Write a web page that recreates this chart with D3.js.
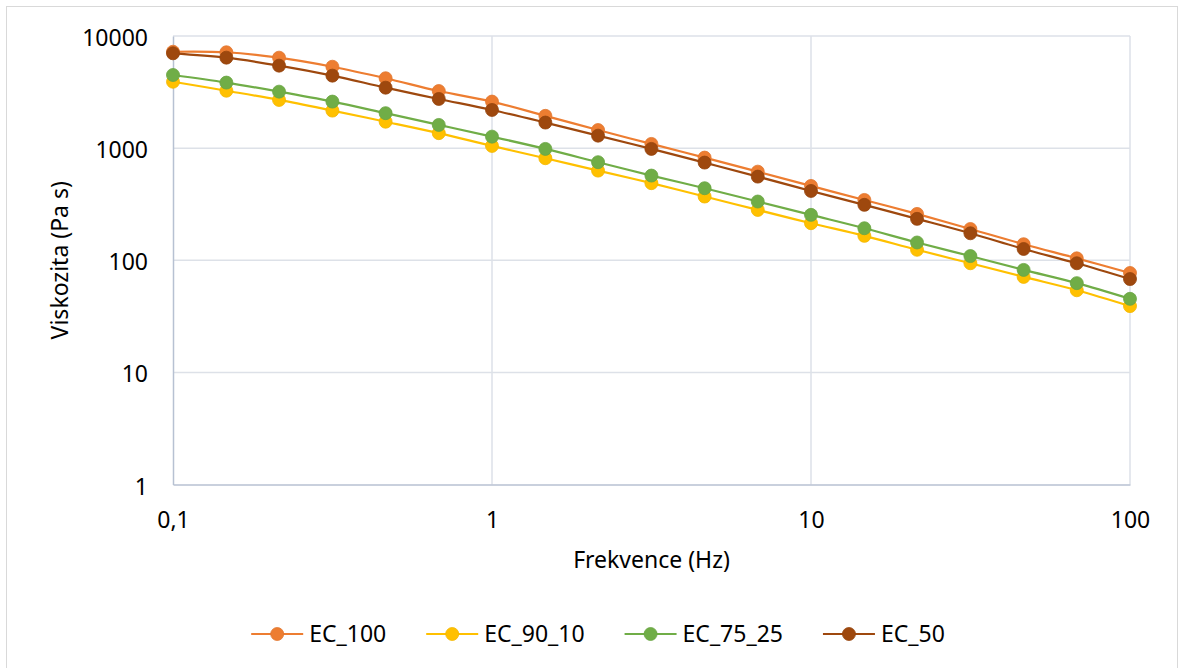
<!DOCTYPE html>
<html>
<head>
<meta charset="utf-8">
<script src="https://cdn.jsdelivr.net/npm/d3@7"></script>
<style>
  html, body { margin: 0; padding: 0; background: #fff; }
  svg { display: block; }
  text { font-family: "Noto Sans", "Open Sans", sans-serif; fill: #000; }
</style>
</head>
<body>
<svg id="chart" width="1179" height="668"></svg>
<script>
// Frequency sweep (Hz), 6 points per decade
const frequencies = [0.1, 0.147, 0.215, 0.316, 0.464, 0.681, 1, 1.47, 2.15, 3.16, 4.64, 6.81, 10, 14.7, 21.5, 31.6, 46.4, 68.1, 100];

// Viscosity (Pa s) per sample
const ec100  = [7240, 7160, 6410, 5320, 4200, 3230, 2600, 1940, 1450, 1090, 823, 617, 460, 345, 259, 190, 139, 104, 77];
const ec9010 = [3910, 3250, 2690, 2160, 1720, 1360, 1046, 813, 630, 487, 370, 281, 214, 165, 124, 94, 71, 54, 39];
const ec7525 = [4490, 3840, 3190, 2600, 2050, 1610, 1266, 984, 749, 569, 439, 334, 254, 193, 144, 109, 82, 62.5, 45.3];
const ec50   = [7010, 6410, 5440, 4430, 3460, 2745, 2190, 1690, 1292, 984, 743, 557, 415, 312, 234, 174, 126, 94, 68];

const seriesNames  = ["EC_100", "EC_90_10", "EC_75_25", "EC_50"];
const seriesColors = ["#ED7D31", "#FFC000", "#70AD47", "#9E480E"];
const seriesValues = [ec100, ec9010, ec7525, ec50];

const xTicks = [0.1, 1, 10, 100];
const xTickLabels = ["0,1", "1", "10", "100"];
const yTicks = [1, 10, 100, 1000, 10000];
const yTickLabels = ["1", "10", "100", "1000", "10000"];

const xTitle = "Frekvence (Hz)";
const yTitle = "Viskozita (Pa s)";

const svg = d3.select("#chart");
const plot = { left: 173, right: 1130, top: 36, bottom: 484.5 };

// outer chart frame
svg.append("rect")
  .attr("x", 6.5).attr("y", 6.5)
  .attr("width", 1171).attr("height", 670)
  .attr("fill", "#fff").attr("stroke", "#d9d9d9").attr("stroke-width", 1);

const x = d3.scaleLog().domain([0.1, 100]).range([plot.left, plot.right]);
const y = d3.scaleLog().domain([1, 10000]).range([plot.bottom, plot.top]);

// gridlines
const grid = svg.append("g");
grid.selectAll("line.gx").data(xTicks.slice(1)).join("line")
  .attr("x1", d => x(d)).attr("x2", d => x(d))
  .attr("y1", plot.top).attr("y2", plot.bottom)
  .attr("stroke", "#dde1e8").attr("stroke-width", 1.5);
grid.selectAll("line.gy").data(yTicks.slice(1)).join("line")
  .attr("x1", plot.left).attr("x2", plot.right)
  .attr("y1", d => y(d)).attr("y2", d => y(d))
  .attr("stroke", "#dde1e8").attr("stroke-width", 1.5);

// axes
const xAxis = d3.axisBottom(x).tickValues(xTicks)
  .tickFormat((d, i) => xTickLabels[i]).tickSize(0).tickPadding(0);
const yAxis = d3.axisLeft(y).tickValues(yTicks)
  .tickFormat((d, i) => yTickLabels[i]).tickSize(0).tickPadding(0);

const gx = svg.append("g").attr("transform", `translate(0,${plot.bottom})`).call(xAxis);
gx.select(".domain").attr("stroke", "#b7c1d2").attr("stroke-width", 1.5);
gx.selectAll("text")
  .attr("font-family", "Noto Sans").attr("font-size", 23).attr("fill", "#000")
  .attr("dy", null).attr("y", 43.5);

const gy = svg.append("g").attr("transform", `translate(${plot.left},0)`).call(yAxis);
gy.select(".domain").attr("stroke", "#b7c1d2").attr("stroke-width", 1.5);
gy.selectAll("text")
  .attr("font-family", "Noto Sans").attr("font-size", 23).attr("fill", "#000")
  .attr("dy", null).attr("x", -25).attr("y", 9.5);

// axis titles
svg.append("text")
  .attr("x", (plot.left + plot.right) / 2).attr("y", 568)
  .attr("text-anchor", "middle").attr("font-size", 23)
  .text(xTitle);
svg.append("text")
  .attr("transform", `translate(68,${(plot.top + plot.bottom) / 2}) rotate(-90)`)
  .attr("text-anchor", "middle").attr("font-size", 23)
  .text(yTitle);

// series: smoothed lines with circular markers
const line = d3.line()
  .x(d => x(d[0])).y(d => y(d[1]))
  .curve(d3.curveCatmullRom.alpha(0.5));

seriesValues.forEach((vals, si) => {
  const pts = frequencies.map((f, i) => [f, vals[i]]);
  const g = svg.append("g");
  g.append("path").datum(pts)
    .attr("d", line).attr("fill", "none")
    .attr("stroke", seriesColors[si]).attr("stroke-width", 2.2);
  g.selectAll("circle").data(pts).join("circle")
    .attr("cx", d => x(d[0])).attr("cy", d => y(d[1]))
    .attr("r", 6.5)
    .attr("fill", seriesColors[si])
    .attr("stroke", d3.color(seriesColors[si]).darker(0.15))
    .attr("stroke-width", 0.8);
});

// legend
const legend = svg.append("g");
const legendY = 634;
const gap = 40;
let cursor = 0;
seriesNames.forEach((name, i) => {
  const it = legend.append("g");
  it.append("line").attr("x1", 0).attr("x2", 52)
    .attr("y1", legendY).attr("y2", legendY)
    .attr("stroke", seriesColors[i]).attr("stroke-width", 2.2);
  it.append("circle").attr("cx", 26).attr("cy", legendY).attr("r", 6.5)
    .attr("fill", seriesColors[i])
    .attr("stroke", d3.color(seriesColors[i]).darker(0.15)).attr("stroke-width", 0.8);
  const t = it.append("text").attr("x", 58).attr("y", legendY + 8)
    .attr("font-size", 23).text(name);
  const w = 58 + t.node().getComputedTextLength();
  it.attr("transform", `translate(${cursor},0)`);
  cursor += w + gap;
});
const total = cursor - gap;
legend.attr("transform", `translate(${598 - total / 2},0)`);
</script>
</body>
</html>
